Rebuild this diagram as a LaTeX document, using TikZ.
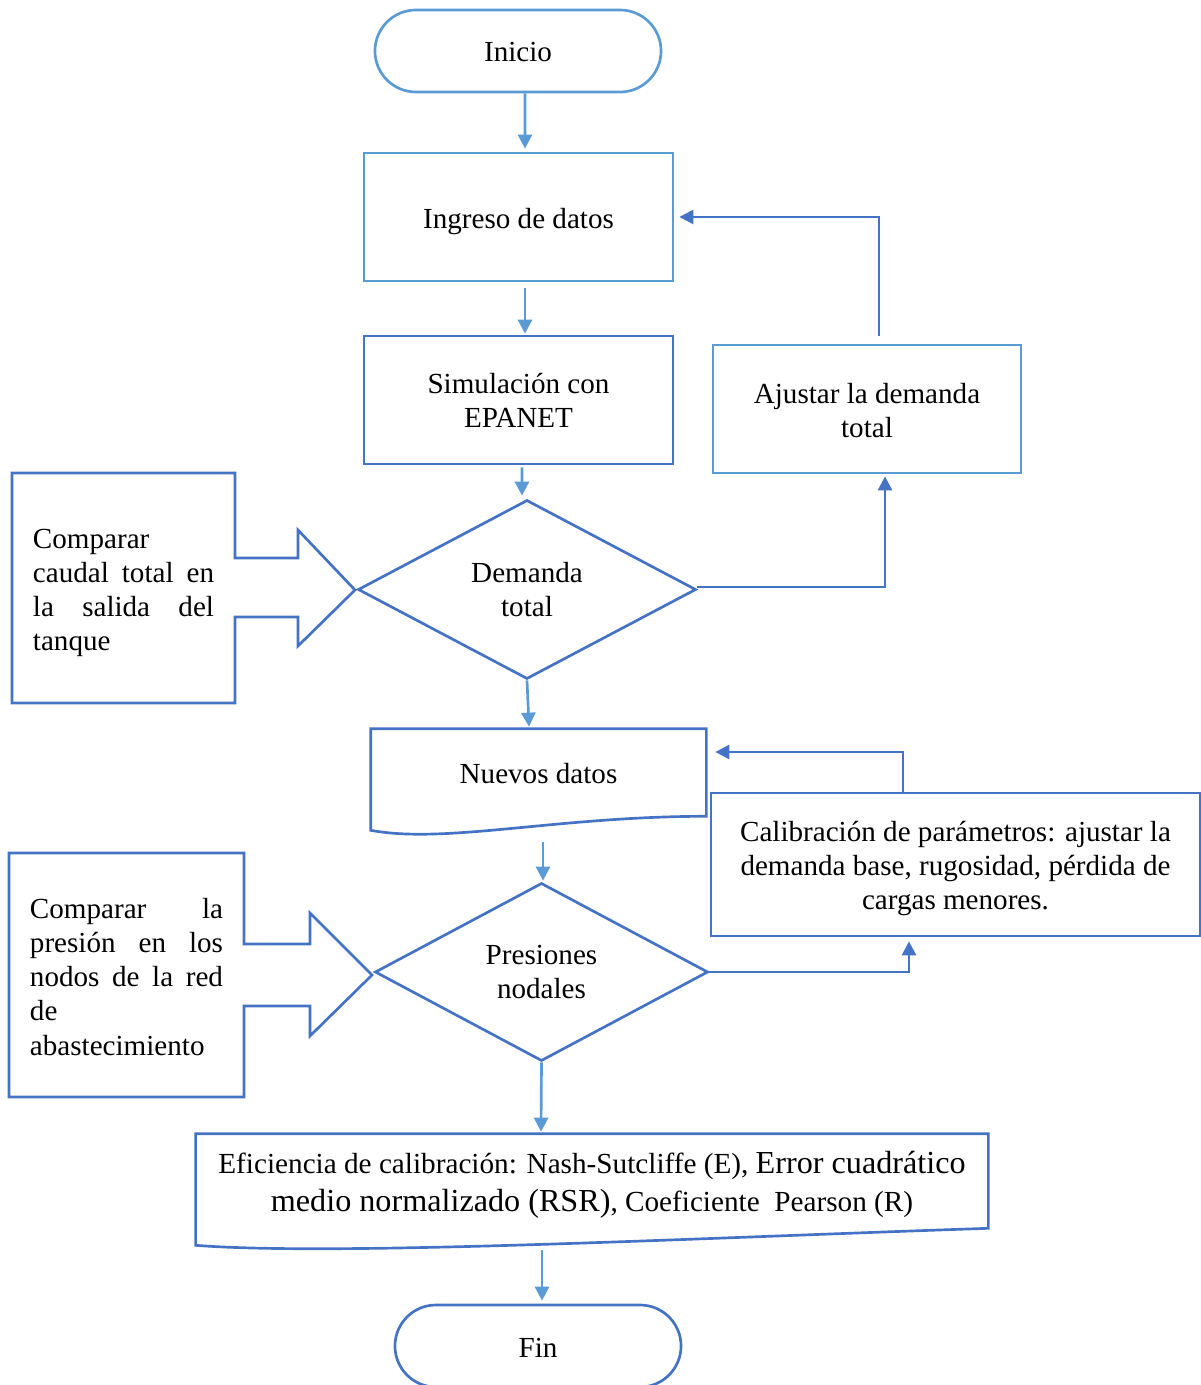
\documentclass[tikz,border=0pt]{standalone}
\usepackage{fontspec}
\usepackage{graphicx}
\setmainfont{Liberation Serif}
\usetikzlibrary{shapes.geometric,shapes.misc,arrows.meta,calc}
\definecolor{lblue}{RGB}{91,155,213}
\definecolor{dblue}{RGB}{68,114,196}
% one justified line of a fixed width
\newcommand{\jline}[2]{\makebox[#1][s]{#2}}
% slightly larger type used for part of the efficiency note
\newcommand{\bigpart}[1]{{\fontsize{22.8}{26}\selectfont #1}}

\begin{document}
\begin{tikzpicture}[x=0.025cm,y=-0.025cm,
  every node/.style={font=\fontsize{20.7}{24.2}\selectfont, text=black, inner sep=0pt},
  ln/.style={line width=1.9pt, line join=miter},
  lbox/.style={ln, draw=lblue},
  dbox/.style={ln, draw=dblue},
  tip/.style={-{Triangle[length=10pt,width=10pt]}},
  lflow/.style={ln, draw=lblue, tip},
  dflow/.style={ln, draw=dblue, tip},
]
\useasboundingbox (0,0) rectangle (1201,1385);

% terminals, process boxes and decisions
\node[lbox, rounded rectangle, minimum width=7.15cm, minimum height=2.05cm] (inicio) at (518,51) {};
\node (iniciotxt) at (518,52.5) {Inicio};
\node[lbox, rectangle, minimum width=7.725cm, minimum height=3.2cm] (ingreso) at (518.5,217) {};
\node (ingresotxt) at (518.5,222) {Ingreso de datos};
\node[dbox, rectangle, minimum width=7.725cm, minimum height=3.2cm, align=center] (sim) at (518.5,400) {Simulación con\\EPANET};
\node[dbox, diamond, minimum width=8.45cm, minimum height=4.475cm, align=center] (demanda) at (527,589.5) {Demanda\\total};
\node[lbox, rectangle, minimum width=7.7cm, minimum height=3.2cm, align=center] (ajustar) at (867,409) {};
\node[align=center] (ajustartxt) at (867,411) {Ajustar la demanda\\total};

% document shape: new data
\node[minimum width=8.375cm, minimum height=2.175cm] (nuevos) at (538.5,772.5) {};
\node (nuevostxt) at (538.5,774) {Nuevos datos};
\draw[dbox] (nuevos.north west) -- (nuevos.north east) -- (nuevos.south east)
  .. controls ($(nuevos.south east)+(-150,0)$) and ($(nuevos.south west)+(75,28)$) .. ($(nuevos.south west)+(0,14)$) -- cycle;

\node[dbox, rectangle, minimum width=12.225cm, minimum height=3.575cm] (calib) at (955.5,864.5) {};
\node[align=center] (calibtxt) at (955.5,868.5)
  {Calibración de parámetros: ajustar la\\demanda base, rugosidad, pérdida de\\cargas menores.};
\node[dbox, diamond, minimum width=8.325cm, minimum height=4.45cm, align=center] (presiones) at (541.5,972) {Presiones\\nodales};

% document shape: calibration efficiency
\node[minimum width=19.8cm, minimum height=2.35cm] (efic) at (592,1181) {};
\node[align=center] (efictxt) at (592,1185)
  {\resizebox{18.675cm}{\height}{Eficiencia de calibración: Nash-Sutcliffe (E), \bigpart{Error cuadrático}}\\[3pt]
   \resizebox{16.05cm}{\height}{\bigpart{medio normalizado (RSR)}, Coeficiente\ \ Pearson (R)}};
\draw[dbox] (efic.north west) -- (efic.north east) -- (efic.south east)
  .. controls ($(efic.south east)+(-300,10)$) and ($(efic.south west)+(140,28)$) .. ($(efic.south west)+(0,17)$) -- cycle;

\begin{scope}
  \clip (0,0) rectangle (1201,1385);
  \node[dbox, rounded rectangle, minimum width=7.15cm, minimum height=2.05cm] (fin) at (538,1346) {};
  \node (fintxt) at (538,1348) {Fin};
\end{scope}

% callout arrows with comparison notes
\draw[dbox] (12,473) -- (235,473) -- (235,558) -- (298,558) -- (298,530) -- (355,590)
  -- (298,646) -- (298,617) -- (235,617) -- (235,703) -- (12,703) -- cycle;
\node[align=left] (cmp1) at (123.5,593)
  {Comparar\\\jline{4.525cm}{caudal total en}\\\jline{4.525cm}{la salida del}\\tanque};

\draw[dbox] (9,853) -- (244,853) -- (244,944) -- (310,944) -- (310,913) -- (372,975)
  -- (310,1036) -- (310,1006) -- (244,1006) -- (244,1097) -- (9,1097) -- cycle;
\node[align=left] (cmp2) at (126.5,977)
  {\jline{4.825cm}{Comparar la}\\\jline{4.825cm}{presión en los}\\\jline{4.825cm}{nodos de la red}\\de\\abastecimiento};

% main flow
\draw[lflow] ($(inicio.south)+(7,0)$) -- ($(ingreso.north)+(6.5,-3)$);
\draw[lflow] ($(ingreso.south)+(6.5,6)$) -- ($(sim.north)+(6.5,-1)$);
\draw[lflow] ($(sim.south)+(3.5,2)$) -- ($(demanda.north)+(-5,-3)$);
\draw[lflow] (demanda.south) -- ($(nuevos.north)+(-9.5,-2)$);
\draw[lflow] ($(nuevos.south)+(4.5,26)$) -- ($(presiones.north)+(1.5,-1)$);
\draw[lflow] (presiones.south) -- ($(efic.north)+(-51,-2)$);
\draw[lflow] ($(efic.south)+(-50,22)$) -- ($(fin.north)+(4,-3)$);

% feedback loops
\draw[dflow] ($(demanda.east)+(0,-2.5)$) -| ($(ajustar.south)+(18,2)$);
\draw[dflow] ($(ajustar.north)+(12,-8)$) |- ($(ingreso.east)+(5,0)$);
\draw[dflow] (presiones.east) -| ($(calib.south)+(-46.5,4)$);
\draw[dflow] ($(calib.north)+(-52.5,0)$) |- ($(nuevos.east)+(9,-20.5)$);
\end{tikzpicture}
\end{document}
